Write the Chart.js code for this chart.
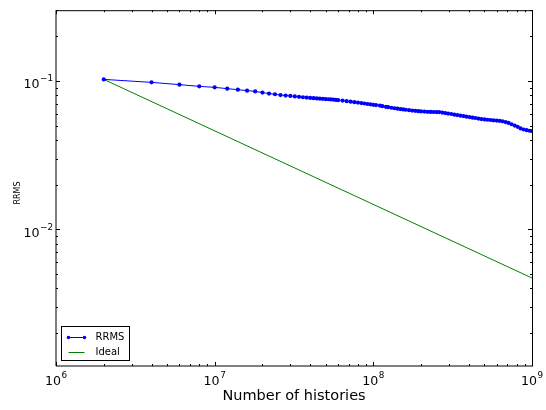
<!DOCTYPE html>
<html>
<head>
<meta charset="utf-8">
<script src="https://cdn.jsdelivr.net/npm/chart.js@4.4.1/dist/chart.umd.min.js"></script>
<style>
  html, body { margin: 0; padding: 0; background: #fff; }
  #wrap { width: 546px; height: 410px; }
</style>
</head>
<body>
<div id="wrap"><canvas id="rrmsChart" width="546" height="410"></canvas></div>
<script>
// --- values ---
const historiesRRMS = [
    2e6, 4e6, 6e6, 8e6, 10e6, 12e6, 14e6, 16e6, 18e6, 20e6,
    22e6, 24e6, 26e6, 28e6, 30e6, 32e6, 34e6, 36e6, 38e6, 40e6,
    42e6, 44e6, 46e6, 48e6, 50e6, 52e6, 54e6, 56e6, 58e6, 60e6,
    64e6, 68e6, 72e6, 76e6, 80e6, 84e6, 88e6, 92e6, 96e6, 100e6,
    104e6, 110e6, 114e6, 120e6, 124e6, 130e6, 136e6, 142e6, 148e6, 154e6,
    160e6, 168e6, 176e6, 184e6, 192e6, 200e6, 210e6, 220e6, 230e6, 240e6,
    250e6, 260e6, 272e6, 284e6, 296e6, 310e6, 324e6, 338e6, 354e6, 370e6,
    386e6, 404e6, 422e6, 440e6, 460e6, 480e6, 502e6, 524e6, 548e6, 572e6,
    598e6, 624e6, 652e6, 682e6, 712e6, 744e6, 778e6, 812e6, 848e6, 886e6,
    926e6, 968e6, 1000e6
];
const rrmsValues = [
    0.1025, 0.0979, 0.0945, 0.0920, 0.0906, 0.0888, 0.0874, 0.0861, 0.0851, 0.0835,
    0.0823, 0.0814, 0.0804, 0.0798, 0.0793, 0.0787, 0.0782, 0.0777, 0.0773, 0.0769,
    0.0766, 0.0763, 0.0760, 0.0758, 0.0755, 0.0753, 0.0751, 0.0749, 0.0746, 0.0743,
    0.0738, 0.0731, 0.0725, 0.0720, 0.0715, 0.0710, 0.0705, 0.0700, 0.0696, 0.0691,
    0.0688, 0.0683, 0.0677, 0.0670, 0.0666, 0.0660, 0.0655, 0.0651, 0.0647, 0.0643,
    0.0640, 0.0636, 0.0632, 0.0629, 0.0626, 0.0624, 0.0622, 0.0620, 0.0619, 0.0618,
    0.0617, 0.0617, 0.0613, 0.0608, 0.0603, 0.0599, 0.0593, 0.0589, 0.0584, 0.0580,
    0.0575, 0.0571, 0.0566, 0.0563, 0.0558, 0.0554, 0.0551, 0.0548, 0.0546, 0.0543,
    0.0541, 0.0539, 0.0535, 0.0529, 0.0522, 0.0511, 0.0501, 0.0491, 0.0479, 0.0471,
    0.0466, 0.0462, 0.0460
];
const idealHistories = [2e6, 1e9];
const idealValues = [0.1025, 0.0047];

// tick labels as base + exponent (drawn like mathtext 10^n)
const xTickValues = [1e6, 1e7, 1e8, 1e9];
const xTickExponents = ['6', '7', '8', '9'];
const yTickValues = [1e-2, 1e-1];
const yTickExponents = ['\u22122', '\u22121'];

const FONT = 'DejaVu Sans';
Chart.defaults.font.family = FONT;
Chart.defaults.color = '#000';

// every 1..9 x 10^n inside the range, powers of ten flagged as major
function logTicks(min, max) {
    const out = [];
    for (let e = Math.floor(Math.log10(min)); e <= Math.ceil(Math.log10(max)); e++) {
        for (let m = 1; m <= 9; m++) {
            const v = parseFloat((m * Math.pow(10, e)).toPrecision(6));
            if (v >= min * 0.999 && v <= max * 1.001) out.push({ value: v, major: m === 1 });
        }
    }
    return out;
}

function findTick(values, v) {
    return values.findIndex(t => Math.abs(t - v) / t < 1e-6);
}

// matplotlib style frame with inward ticks on all four sides
const frameTicks = {
    id: 'frameTicks',
    afterDraw(chart) {
        const { ctx, chartArea: a, scales } = chart;
        ctx.save();
        ctx.strokeStyle = '#000';
        ctx.lineWidth = 1;
        const seg = (x1, y1, x2, y2) => {
            ctx.beginPath(); ctx.moveTo(x1, y1); ctx.lineTo(x2, y2); ctx.stroke();
        };
        scales.x.ticks.forEach(t => {
            const px = Math.round(scales.x.getPixelForValue(t.value)) + 0.5;
            const len = t.major ? 4 : 2;
            seg(px, a.bottom, px, a.bottom - len);
            seg(px, a.top, px, a.top + len);
        });
        scales.y.ticks.forEach(t => {
            const py = Math.round(scales.y.getPixelForValue(t.value)) + 0.5;
            const len = t.major ? 4 : 2;
            seg(a.left, py, a.left + len, py);
            seg(a.right, py, a.right - len, py);
        });
        seg(a.left, a.top + 0.5, a.right + 1, a.top + 0.5);
        seg(a.right + 0.5, a.top, a.right + 0.5, a.bottom);
        seg(a.left, a.top, a.left, a.bottom);
        seg(a.left, a.bottom, a.right + 1, a.bottom);
        ctx.restore();
    }
};

// power-of-ten tick labels with a raised exponent, plus the y title
const powerLabels = {
    id: 'powerLabels',
    afterDraw(chart) {
        const { ctx, chartArea: a, scales } = chart;
        const base = '12.6px "' + FONT + '"', sup = '8.8px "' + FONT + '"';
        const measure = (exp) => {
            ctx.font = base; const w1 = ctx.measureText('10').width;
            ctx.font = sup; const w2 = ctx.measureText(exp).width;
            return [w1, w2];
        };
        const put = (exp, x, baseline) => {
            const [w1] = measure(exp);
            ctx.font = base; ctx.fillText('10', x, baseline);
            ctx.font = sup; ctx.fillText(exp, x + w1 + 0.5, baseline - 7);
        };
        ctx.save();
        ctx.fillStyle = '#000';
        ctx.textBaseline = 'alphabetic';
        ctx.textAlign = 'left';
        xTickValues.forEach((v, i) => {
            const [w1, w2] = measure(xTickExponents[i]);
            const px = scales.x.getPixelForValue(v);
            put(xTickExponents[i], px - (w1 + w2 + 0.5) / 2, a.bottom + 19);
        });
        yTickValues.forEach((v, i) => {
            const [w1, w2] = measure(yTickExponents[i]);
            const py = scales.y.getPixelForValue(v);
            put(yTickExponents[i], a.left - 3 - (w1 + w2 + 0.5), py + 7.5);
        });
        // y axis title
        ctx.translate(19.5, 193);
        ctx.rotate(-Math.PI / 2);
        ctx.font = '8px "' + FONT + '"';
        ctx.textAlign = 'center';
        ctx.fillText(scales.y.options.title.text, 0, 0);
        ctx.restore();
    }
};

// legend box in the lower left corner of the axes
const cornerLegend = {
    id: 'cornerLegend',
    afterDraw(chart) {
        const { ctx, chartArea: a } = chart;
        const bx = a.left + 5.5, by = a.bottom - 39.5, bw = 68, bh = 34;
        ctx.save();
        ctx.fillStyle = '#fff';
        ctx.fillRect(bx, by, bw, bh);
        ctx.strokeStyle = '#000';
        ctx.lineWidth = 1;
        ctx.strokeRect(bx, by, bw, bh);
        ctx.font = '10px "' + FONT + '"';
        ctx.textBaseline = 'middle';
        chart.data.datasets.forEach((ds, i) => {
            const ly = Math.round(by + 10 + i * 15) + 0.5;
            ctx.strokeStyle = ds.borderColor;
            ctx.beginPath(); ctx.moveTo(bx + 7, ly); ctx.lineTo(bx + 23, ly); ctx.stroke();
            if (ds.pointRadius > 0) {
                ctx.fillStyle = ds.borderColor;
                [bx + 7, bx + 23].forEach(px => {
                    ctx.beginPath(); ctx.arc(px, ly, 1.8, 0, Math.PI * 2); ctx.fill();
                });
            }
            ctx.fillStyle = '#000';
            ctx.fillText(ds.label, bx + 34, ly);
        });
        ctx.restore();
    }
};

new Chart(document.getElementById('rrmsChart'), {
    type: 'line',
    data: {
        datasets: [{
            label: 'RRMS',
            data: historiesRRMS.map((n, i) => ({ x: n, y: rrmsValues[i] })),
            borderColor: '#0000ff',
            backgroundColor: '#0000ff',
            borderWidth: 1,
            pointRadius: 2.1,
            pointBorderWidth: 0,
            pointBackgroundColor: '#0000ff',
            tension: 0
        }, {
            label: 'Ideal',
            data: idealHistories.map((n, i) => ({ x: n, y: idealValues[i] })),
            borderColor: '#008000',
            borderWidth: 1,
            pointRadius: 0,
            tension: 0
        }]
    },
    options: {
        responsive: false,
        animation: false,
        devicePixelRatio: 1,
        layout: { padding: { left: 0, right: 14, top: 8, bottom: 0 } },
        scales: {
            x: {
                type: 'logarithmic',
                min: 1e6,
                max: 1e9,
                afterBuildTicks: s => { s.ticks = logTicks(1e6, 1e9); },
                afterFit: s => { s.height = 44; },
                grid: { display: false },
                border: { display: false },
                ticks: {
                    autoSkip: false, maxRotation: 0, padding: 6,
                    color: 'rgba(0,0,0,0)',
                    callback: v => findTick(xTickValues, v) >= 0 ? '10' : ''
                },
                title: {
                    display: true, text: 'Number of histories',
                    font: { size: 14.5 }, padding: { top: 0, bottom: 5 }
                }
            },
            y: {
                type: 'logarithmic',
                min: 0.0012,
                max: 0.3,
                afterBuildTicks: s => { s.ticks = logTicks(0.0012, 0.3); },
                afterFit: s => { s.width = 56; },
                grid: { display: false },
                border: { display: false },
                ticks: {
                    autoSkip: false, padding: 3,
                    color: 'rgba(0,0,0,0)',
                    callback: v => findTick(yTickValues, v) >= 0 ? '10' : ''
                },
                title: {
                    display: false, text: 'RRMS'
                }
            }
        },
        plugins: {
            legend: { display: false },
            tooltip: { enabled: false }
        }
    },
    plugins: [frameTicks, powerLabels, cornerLegend]
});
</script>
</body>
</html>
